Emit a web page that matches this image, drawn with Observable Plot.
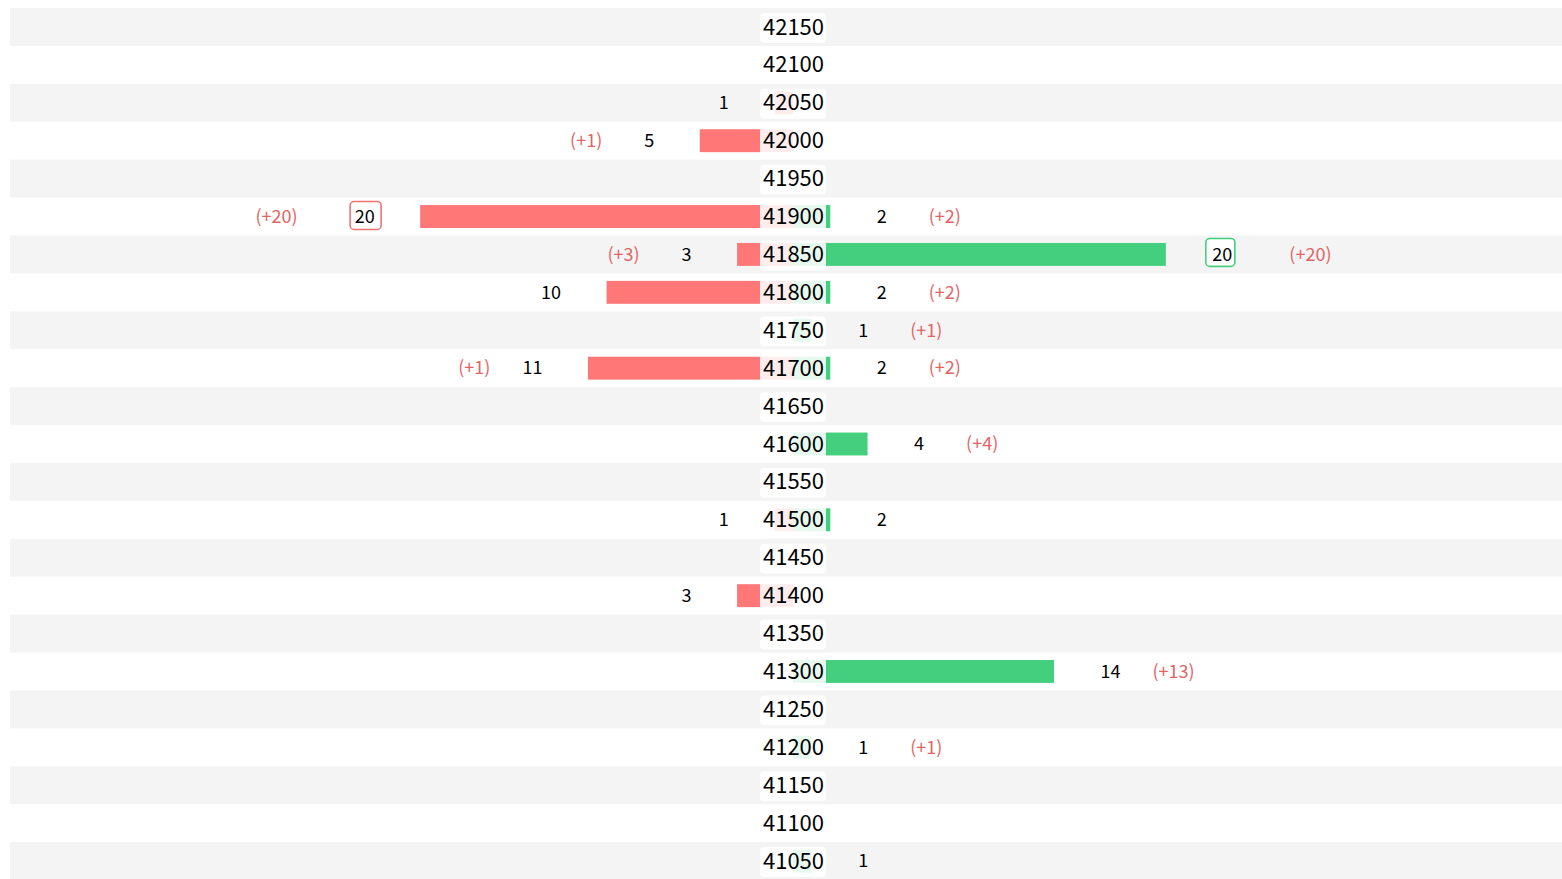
<!DOCTYPE html>
<html>
<head>
<meta charset="utf-8">
<script src="https://cdn.jsdelivr.net/npm/d3@7"></script>
<script src="https://cdn.jsdelivr.net/npm/@observablehq/plot@0.6"></script>
<style>
  html, body { margin: 0; padding: 0; background: #fff; overflow: hidden; }
  #chart svg { display: block; }
</style>
</head>
<body>
<div id="chart"></div>
<script>
// Strike prices (top to bottom)
const prices = [42150, 42100, 42050, 42000, 41950, 41900, 41850, 41800, 41750, 41700, 41650, 41600,
                41550, 41500, 41450, 41400, 41350, 41300, 41250, 41200, 41150, 41100, 41050];
// Left (red) counts per price
const leftCounts  = [0, 0, 1, 5, 0, 20, 3, 10, 0, 11, 0, 0, 0, 1, 0, 3, 0, 0, 0, 0, 0, 0, 0];
// Right (green) counts per price
const rightCounts = [0, 0, 0, 0, 0, 2, 20, 2, 1, 2, 0, 4, 0, 2, 0, 0, 0, 14, 0, 1, 0, 0, 1];
// Changes shown in parentheses
const leftChanges  = [0, 0, 0, 1, 0, 20, 3, 0, 0, 1, 0, 0, 0, 0, 0, 0, 0, 0, 0, 0, 0, 0, 0];
const rightChanges = [0, 0, 0, 0, 0, 2, 20, 2, 1, 2, 0, 4, 0, 0, 0, 0, 0, 13, 0, 1, 0, 0, 0];

const rows = prices.map((p, i) => ({
  price: String(p), idx: i,
  left: leftCounts[i], right: rightCounts[i],
  lchg: leftChanges[i], rchg: rightChanges[i]
}));
const leftMax = d3.max(leftCounts);
const rightMax = d3.max(rightCounts);

const RED = "#ff7777";
const GREEN = "#44cf7f";
const CHG = "#e36464";
const FONT = "'Noto Sans CJK SC', 'Noto Sans', sans-serif";

const zero = () => 0;
const L = rows.filter(d => d.left > 0);
const R = rows.filter(d => d.right > 0);

const chart = Plot.plot({
  width: 1562,
  height: 880,
  marginTop: 8,
  marginBottom: 0,
  marginLeft: 10,
  marginRight: 0,
  x: { domain: [-42, 41.25], axis: null },
  y: { domain: rows.map(d => d.price), axis: null, padding: 0, round: false },
  style: { fontFamily: FONT, background: "#fff" },
  marks: [
    // alternating row stripes
    Plot.cell(rows.filter(d => d.idx % 2 === 0), { y: "price", fill: "#f4f4f4" }),
    // bars
    Plot.barX(L, { x1: zero, x2: d => -d.left, y: "price", fill: RED, insetTop: 7.5, insetBottom: 7.5 }),
    Plot.barX(R, { x1: zero, x2: d => d.right, y: "price", fill: GREEN, insetTop: 7.5, insetBottom: 7.5 }),
    // centre label box (semi-transparent)
    Plot.barX(rows, { x1: zero, x2: zero, y: "price", insetLeft: -33, insetRight: -33, insetTop: 5, insetBottom: 3,
                      fill: "#ffffff", fillOpacity: 0.87, rx: 4 }),
    Plot.text(rows, { x: zero, y: "price", text: "price", fontSize: 22, fill: "#000", fontFamily: FONT }),
    // boxes around the maximum counts
    Plot.barX(L.filter(d => d.left === leftMax), { x1: d => -d.left, x2: d => -d.left, y: "price",
      insetLeft: -70, insetRight: 39, insetTop: 4, insetBottom: 6, fill: "#fff", stroke: "#f27272", strokeWidth: 1.6, rx: 4 }),
    Plot.barX(R.filter(d => d.right === rightMax), { x1: d => d.right, x2: d => d.right, y: "price",
      insetLeft: 40, insetRight: -69, insetTop: 3, insetBottom: 7, fill: "#fff", stroke: "#44cf7f", strokeWidth: 1.6, rx: 4 }),
    // count labels
    Plot.text(L, { x: d => -d.left, y: "price", text: d => String(d.left), textAnchor: "end", dx: -46,
                   fontSize: 18, fill: "#000", fontFamily: FONT }),
    Plot.text(R, { x: d => d.right, y: "price", text: d => String(d.right), textAnchor: "start", dx: 46,
                   fontSize: 18, fill: "#000", fontFamily: FONT }),
    // change labels
    Plot.text(L.filter(d => d.lchg > 0 && d.left !== leftMax), { x: d => -d.left, y: "price", text: d => `(+${d.lchg})`,
                   textAnchor: "end", dx: -98, fontSize: 18, fill: CHG, fontFamily: FONT }),
    Plot.text(L.filter(d => d.lchg > 0 && d.left === leftMax), { x: d => -d.left, y: "price", text: d => `(+${d.lchg})`,
                   textAnchor: "end", dx: -123, fontSize: 18, fill: CHG, fontFamily: FONT }),
    Plot.text(R.filter(d => d.rchg > 0 && d.right !== rightMax), { x: d => d.right, y: "price", text: d => `(+${d.rchg})`,
                   textAnchor: "start", dx: 98, fontSize: 18, fill: CHG, fontFamily: FONT }),
    Plot.text(R.filter(d => d.rchg > 0 && d.right === rightMax), { x: d => d.right, y: "price", text: d => `(+${d.rchg})`,
                   textAnchor: "start", dx: 123, fontSize: 18, fill: CHG, fontFamily: FONT })
  ]
});
document.getElementById("chart").appendChild(chart);
</script>
</body>
</html>
